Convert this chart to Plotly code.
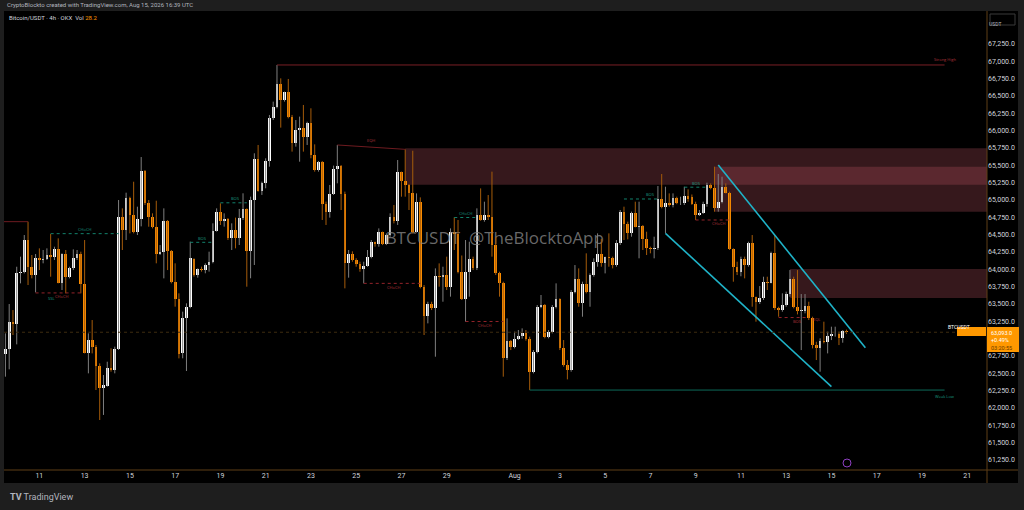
import pandas as pd
import plotly.graph_objects as go

# ---- 4h candles, Bitcoin/USDT (OKX) ----
start_time = "2026-07-09 12:00"
opens = [
    62779, 62851, 63236, 63216, 63942, 63966, 64423, 64029, 63913, 64159,
    64135, 64144, 64207, 64173, 64288, 63808, 64216, 63885, 64014, 64168,
    64221, 63783, 62798, 62981, 62885, 62606, 62284, 62322, 62572, 62548,
    62846, 64750, 64567, 65034, 64784, 64543, 64721, 65418, 64962, 64750,
    64615, 64221, 64245, 64697, 64269, 63822, 63567, 62790, 63294, 63452,
    64150, 63919, 64010, 63996, 64063, 64111, 64553, 64832, 64702, 64727,
    64448, 64573, 64457, 64736, 64871, 64265, 65005, 65592, 65130, 65251,
    65563, 66178, 66347, 66669, 66438, 66554, 66203, 65827, 66010, 66044,
    65914, 66106, 65650, 65433, 65544, 64948, 64832, 65082, 65448, 65491,
    65082, 64087, 64217, 64134, 64077, 64000, 64048, 64183, 64389, 64360,
    64534, 64360, 64495, 64760, 64702, 65399, 65279, 65216, 65096, 64543,
    64976, 63750, 63332, 63495, 63447, 63908, 63894, 63918, 63740, 64543,
    64505, 63957, 63572, 63966, 64149, 64014, 64784, 64712, 64784, 64760,
    64351, 63942, 63798, 62716, 62966, 62875, 62990, 63043, 63077, 62990,
    62524, 62812, 63461, 63485, 63019, 63101, 63452, 63572, 62860, 62620,
    62548, 63678, 63856, 63519, 63788, 63678, 63918, 64110, 64221, 64086,
    64173, 64159, 64062, 64375, 64832, 64654, 64529, 64817, 64606, 64625,
    64433, 64312, 64288, 64312, 65014, 64894, 64952, 64928, 65024, 64952,
    64961, 65058, 65040, 64942, 64783, 64817, 64942, 65216, 65168, 64880,
    64976, 65192, 65106, 64288, 64038, 63966, 64144, 64062, 64385, 63596,
    63533, 63582, 63822, 63808, 64231, 63437, 63413, 63480, 63644, 63856,
    63461, 63396, 63404, 63476, 63303, 62908, 62860, 62971, 62956, 63038,
    63062, 63072, 63005, 63110,
]
highs = [
    63077, 63500, 63413, 64038, 64183, 64495, 64688, 64207, 64221, 64303,
    64279, 64303, 64510, 64327, 64447, 64231, 64279, 64038, 64288, 64279,
    64255, 64423, 63077, 63269, 62909, 62644, 62476, 62668, 62861, 62885,
    65000, 64880, 65106, 65048, 65264, 64904, 65620, 65433, 65000, 64808,
    64990, 64351, 64880, 64712, 64279, 64087, 63654, 63390, 63510, 64400,
    64159, 64015, 64039, 64087, 64255, 64664, 64880, 64952, 64808, 64740,
    64664, 64746, 64871, 65097, 64880, 65049, 65674, 65794, 65265, 65602,
    66227, 66419, 66948, 66755, 66563, 66746, 66227, 66154, 66203, 66371,
    66130, 66323, 65803, 65563, 65563, 64977, 65217, 65496, 65794, 65505,
    65121, 64279, 64260, 64160, 64110, 64110, 64279, 64423, 64400, 64591,
    64545, 64520, 64808, 64928, 65577, 65410, 65731, 65230, 65711, 65096,
    65038, 63774, 63533, 63533, 64014, 64086, 64038, 64183, 64591, 64750,
    64712, 64200, 64423, 64399, 64183, 64880, 65168, 64976, 65072, 65409,
    64471, 63966, 63822, 63293, 62981, 63101, 63125, 63149, 63125, 63029,
    62836, 63485, 63630, 63500, 63125, 63485, 63798, 63582, 62980, 62692,
    63702, 64062, 64014, 63822, 64231, 63942, 64159, 64519, 64440, 64183,
    64519, 64183, 64423, 64856, 64904, 64688, 64832, 64976, 64976, 64640,
    64543, 64327, 64471, 65202, 65375, 65192, 65096, 65096, 65048, 65048,
    65192, 65154, 65080, 64976, 64856, 64976, 65250, 65240, 65481, 65375,
    65336, 65240, 65120, 64303, 64110, 64183, 64183, 64399, 64495, 63606,
    63759, 63894, 63894, 64255, 64495, 63461, 63654, 63678, 63990, 63894,
    63990, 63644, 63644, 63533, 63317, 62956, 63005, 63245, 63101, 63173,
    63173, 63101, 63125, 63130,
]
lows = [
    62452, 62558, 63053, 62918, 63798, 63942, 63774, 63870, 63668, 63990,
    64087, 64135, 63894, 64135, 63798, 63702, 63654, 63870, 63990, 64135,
    63654, 62788, 62500, 62788, 62260, 61827, 61900, 62308, 62524, 62500,
    62837, 64279, 64423, 64519, 64519, 64495, 64620, 64928, 64615, 64591,
    64087, 64207, 63870, 63990, 63798, 63462, 62716, 62717, 62534, 63438,
    63895, 63880, 63967, 63943, 63967, 64087, 64544, 64640, 64616, 64424,
    64279, 64303, 64351, 64712, 63750, 63871, 64063, 65121, 65073, 65169,
    65481, 66154, 66323, 66044, 66419, 66178, 65698, 65770, 65553, 65698,
    65794, 65602, 65409, 65409, 64712, 64640, 64746, 65073, 65241, 64856,
    63726, 63880, 64110, 64038, 63966, 63798, 64038, 64159, 64327, 64327,
    64350, 64350, 64470, 64663, 64640, 65048, 65048, 64856, 64519, 64530,
    63726, 63053, 63221, 63413, 62740, 63750, 63533, 63702, 63606, 64279,
    63942, 63558, 63245, 63606, 63990, 63990, 64700, 64687, 64712, 64183,
    63918, 63606, 62452, 62692, 62836, 62860, 62980, 63000, 62971, 62259,
    62500, 62788, 63440, 63005, 63005, 63077, 63437, 62836, 62596, 62413,
    62524, 63654, 63461, 63317, 63654, 63461, 63894, 64038, 64038, 63942,
    64038, 64014, 64038, 64351, 64423, 64433, 64471, 64606, 64159, 64279,
    64207, 64231, 64159, 64279, 64880, 64519, 64904, 64894, 64940, 64928,
    64928, 64976, 64930, 64712, 64770, 64800, 64904, 65154, 64832, 64832,
    64952, 65096, 64279, 63822, 63918, 63900, 63870, 64038, 63461, 63245,
    63500, 63558, 63702, 63798, 63413, 63317, 63389, 63461, 63606, 63437,
    63350, 62836, 63365, 63269, 62860, 62692, 62524, 62932, 62788, 62980,
    63029, 62908, 62942, 63070,
]
closes = [
    62851, 63236, 63216, 63952, 63966, 64423, 64029, 63913, 64159, 64135,
    64154, 64207, 64173, 64288, 63808, 64216, 63885, 64014, 64168, 64221,
    63788, 62798, 62981, 62885, 62606, 62284, 62332, 62572, 62548, 62846,
    64750, 64567, 65034, 64784, 64543, 64721, 65418, 64962, 64750, 64615,
    64221, 64245, 64697, 64269, 63822, 63567, 62780, 63294, 63452, 64159,
    63919, 64010, 63996, 64063, 64111, 64553, 64832, 64702, 64727, 64448,
    64573, 64457, 64736, 64871, 64265, 65005, 65592, 65130, 65251, 65563,
    66178, 66347, 66669, 66438, 66554, 66203, 65827, 66010, 66044, 65914,
    66106, 65650, 65433, 65544, 64948, 64832, 65082, 65448, 65491, 65082,
    64087, 64217, 64134, 64077, 64000, 64048, 64183, 64389, 64360, 64534,
    64360, 64495, 64760, 64702, 65399, 65279, 65216, 65096, 64543, 64976,
    63750, 63332, 63495, 63447, 63908, 63894, 63918, 63740, 64543, 64505,
    63957, 63572, 63966, 64149, 64014, 64784, 64712, 64784, 64760, 64351,
    63942, 63798, 62716, 62966, 62875, 62990, 63043, 63077, 62990, 62524,
    62812, 63461, 63485, 63019, 63101, 63452, 63572, 62860, 62620, 62548,
    63678, 63856, 63519, 63788, 63678, 63918, 64110, 64221, 64086, 64173,
    64159, 64062, 64375, 64832, 64654, 64529, 64817, 64615, 64625, 64433,
    64312, 64288, 64312, 65014, 64894, 64952, 64928, 65024, 64952, 64961,
    65058, 65010, 64942, 64783, 64817, 64942, 65216, 65168, 64880, 64976,
    65192, 65106, 64288, 64038, 63966, 64144, 64062, 64385, 63596, 63533,
    63582, 63822, 63808, 64231, 63437, 63413, 63480, 63644, 63856, 63461,
    63404, 63410, 63476, 63303, 62908, 62860, 62971, 62956, 63038, 63062,
    63072, 63005, 63110, 63093,
]

# price scale ticks (63,000 sits under the last-price label)
price_ticks = [61250, 61500, 61750, 62000, 62250, 62500, 62750, 63250,
               63500, 63750, 64000, 64250, 64500, 64750, 65000, 65250, 65500,
               65750, 66000, 66250, 66500, 66750, 67000, 67250]
# time scale ticks
date_ticks = ["2026-07-11", "2026-07-13", "2026-07-15", "2026-07-17", "2026-07-19",
              "2026-07-21", "2026-07-23", "2026-07-25", "2026-07-27", "2026-07-29",
              "2026-08-01", "2026-08-03", "2026-08-05", "2026-08-07", "2026-08-09",
              "2026-08-11", "2026-08-13", "2026-08-15", "2026-08-17", "2026-08-19",
              "2026-08-21"]
date_labels = ["11", "13", "15", "17", "19", "21", "23", "25", "27", "29",
               "Aug", "3", "5", "7", "9", "11", "13", "15", "17", "19", "21"]

# supply zones (top, bottom, first candle index)
zones = [(65745, 65220, 106), (65480, 64830, 188), (64005, 63587, 208)]
# swing levels
strong_high = (72, 66948)
weak_low = (139, 62259)
level_end = "2026-08-20 00:00"
# falling wedge (candle index / time, price)
wedge_upper = [(189, 65505), ("2026-08-16 12:00", 62870)]
wedge_lower = [(175, 64520), ("2026-08-15 00:00", 62308)]
# market structure: (from idx, to idx, price, side, label, label idx)
structure = [
    (12, 30, 64515, "bull", "CHoCH", 21),
    (8, 20, 63660, "bear", "CHoCH", 15),
    (49, 55, 64390, "bull", "BOS", 52),
    (57, 64, 64960, "bull", "BOS", 61),
    (95, 110, 63798, "bear", "CHoCH", 103),
    (119, 125, 64748, "bull", "CHoCH", 122),
    (122, 132, 63248, "bear", "CHoCH", 127),
    (164, 173, 65015, "bull", "BOS", 171),
    (180, 186, 65185, "bull", "BOS", 183),
    (183, 192, 64712, "bear", "CHoCH", 189),
    (205, 213, 63305, "bear", "BOS", 210),
]
last_price = 63093.0

times = pd.date_range(start_time, periods=len(closes), freq="4h")
x_range = ["2026-07-09 10:30", "2026-08-21 21:00"]
y_range = [61106, 67712]

BULL = "#ffffff"
BEAR = "#fb8c00"
BULL_WICK = "#7f7f7f"
BEAR_WICK = "#a65c0a"
TEAL = "#12806b"
RED = "#93232a"
AXIS = "#5e3f16"

# pixel helpers for the chrome around the plot (plot area x 4..987, y 12..470)
def px(x):
    return (x - 4) / 983

def py(y):
    return (470 - y) / 458


fig = go.Figure()

# watermark sits behind the candles
fig.add_trace(go.Scatter(
    x=[pd.Timestamp("2026-07-31 03:00")], y=[64424], mode="text",
    text=["BTCUSDT  @TheBlocktoApp"],
    textfont=dict(family="Open Sans", size=17, color="rgba(140,140,140,0.75)"),
    hoverinfo="skip", showlegend=False))

# wicks
for bull, col in [(True, BULL_WICK), (False, BEAR_WICK)]:
    wx, wy = [], []
    for t, o, h, l, c in zip(times, opens, highs, lows, closes):
        if (c >= o) == bull:
            wx += [t, t, None]
            wy += [l, h, None]
    fig.add_trace(go.Scatter(x=wx, y=wy, mode="lines", line=dict(color=col, width=1),
                             hoverinfo="skip", showlegend=False))

# bodies
base = [min(o, c) for o, c in zip(opens, closes)]
height = [max(abs(c - o), 10) for o, c in zip(opens, closes)]
colors = [BULL if c >= o else BEAR for o, c in zip(opens, closes)]
fig.add_trace(go.Bar(x=times, y=height, base=base, width=4 * 3600 * 1000 * 0.72,
                     marker=dict(color=colors, line=dict(width=0)),
                     hoverinfo="skip", showlegend=False))

# wedge lines
for pts in (wedge_upper, wedge_lower):
    xs = [times[p[0]] if isinstance(p[0], int) else pd.Timestamp(p[0]) for p in pts]
    fig.add_trace(go.Scatter(x=xs, y=[p[1] for p in pts], mode="lines",
                             line=dict(color="#1fb3c8", width=1.6),
                             hoverinfo="skip", showlegend=False))

shapes = []
# black chart pane incl. scales
shapes.append(dict(type="rect", xref="paper", yref="paper", x0=px(4), x1=px(1018),
                   y0=py(483), y1=py(11), fillcolor="#000000", line_width=0, layer="below"))
for top, bot, i in zones:
    shapes.append(dict(type="rect", xref="x", yref="y", x0=times[i], x1=x_range[1],
                       y0=bot, y1=top, fillcolor="rgba(178,80,92,0.30)",
                       line_width=0, layer="below"))
# swing levels
shapes.append(dict(type="line", xref="x", yref="y", x0=times[strong_high[0]], x1=level_end,
                   y0=strong_high[1], y1=strong_high[1], line=dict(color="#7a1f24", width=1)))
shapes.append(dict(type="line", xref="x", yref="y", x0=times[weak_low[0]], x1=level_end,
                   y0=weak_low[1], y1=weak_low[1], line=dict(color="#0d6a5a", width=1)))
# old high and equal-high line
shapes.append(dict(type="line", xref="x", yref="y", x0=x_range[0], x1=times[6],
                   y0=highs[6], y1=highs[6], line=dict(color="#6e1b20", width=1)))
shapes.append(dict(type="line", xref="x", yref="y", x0=times[88], x1=times[106],
                   y0=highs[88], y1=highs[106], line=dict(color="#6e1b20", width=1)))
# structure breaks
for i0, i1, p, side, lab, li in structure:
    col = TEAL if side == "bull" else RED
    shapes.append(dict(type="line", xref="x", yref="y", x0=times[i0], x1=times[i1],
                       y0=p, y1=p, line=dict(color=col, width=1, dash="dot")))
# last price line
shapes.append(dict(type="line", xref="paper", yref="y", x0=0, x1=1, y0=last_price,
                   y1=last_price, line=dict(color="#3e2c10", width=1, dash="dot")))
# scale separators
shapes.append(dict(type="line", xref="paper", yref="paper", x0=px(987), x1=px(987),
                   y0=py(483), y1=py(11), line=dict(color=AXIS, width=1)))
shapes.append(dict(type="line", xref="paper", yref="paper", x0=px(4), x1=px(1018),
                   y0=py(470), y1=py(470), line=dict(color=AXIS, width=1)))
# price label on the scale
shapes.append(dict(type="rect", xref="paper", yref="paper", x0=px(987), x1=px(1019),
                   y0=py(352), y1=py(327), fillcolor="#ff9800", line_width=0))
shapes.append(dict(type="rect", xref="paper", yref="paper", x0=px(957), x1=px(986),
                   y0=py(336), y1=py(327), fillcolor="#ff9800", line_width=0))
# currency box
shapes.append(dict(type="rect", xref="paper", yref="paper", x0=px(990), x1=px(1015),
                   y0=py(25), y1=py(14), fillcolor="#000000",
                   line=dict(color="#3a3a3a", width=1)))
# small purple icon
shapes.append(dict(type="circle", xref="paper", yref="paper", x0=px(843), x1=px(851),
                   y0=py(467), y1=py(459), line=dict(color="#8e3fc2", width=1)))

annotations = []
for i0, i1, p, side, lab, li in structure:
    col = "#1a9c82" if side == "bull" else "#b3343c"
    annotations.append(dict(x=times[li], y=p, xref="x", yref="y", text=lab, showarrow=False,
                            font=dict(size=4, color=col), yshift=4 if side == "bull" else -4))
annotations.append(dict(x=times[12], y=63660, xref="x", yref="y", text="SSL", showarrow=False,
                        font=dict(size=4, color="#1a9c82"), yshift=-6))
annotations.append(dict(x=times[97], y=65800, xref="x", yref="y", text="EQH", showarrow=False,
                        font=dict(size=4, color="#b3343c"), yshift=4))
annotations.append(dict(x=times[215], y=63270, xref="x", yref="y", text="EQL", showarrow=False,
                        font=dict(size=4, color="#b3343c"), yshift=0))
annotations.append(dict(x=level_end, y=strong_high[1], xref="x", yref="y", text="Strong High",
                        showarrow=False, font=dict(size=4, color="#b3343c"), yshift=5))
annotations.append(dict(x=level_end, y=weak_low[1], xref="x", yref="y", text="Weak Low",
                        showarrow=False, font=dict(size=4, color="#1a9c82"), yshift=-6))

# header / footer chrome
annotations.append(dict(x=px(5), y=py(5), xref="paper", yref="paper", xanchor="left",
                        yanchor="middle", showarrow=False,
                        text="CryptoBlockto created with TradingView.com, Aug 15, 2026 16:39 UTC",
                        font=dict(family="Roboto", size=6, color="#b2b5be")))
annotations.append(dict(x=px(7), y=py(17.5), xref="paper", yref="paper", xanchor="left",
                        yanchor="middle", showarrow=False,
                        text="Bitcoin/USDT · 4h · OKX  Vol <span style='color:#ff9800'>28.2</span>",
                        font=dict(family="Roboto", size=6, color="#d1d4dc")))
annotations.append(dict(x=px(8), y=py(497), xref="paper", yref="paper", xanchor="left",
                        yanchor="middle", showarrow=False,
                        text="<b>TV</b> TradingView",
                        font=dict(family="Roboto", size=9, color="#b2b5be")))
annotations.append(dict(x=px(1002.5), y=py(19.5), xref="paper", yref="paper",
                        showarrow=False, text="USDT",
                        font=dict(family="Roboto", size=5, color="#b2b5be")))
annotations.append(dict(x=px(971.5), y=py(331.5), xref="paper", yref="paper",
                        showarrow=False, text="BTCUSDT",
                        font=dict(family="Roboto", size=5, color="#ffffff")))
for yy, txt, col in [(332.5, "63,093.0", "#ffffff"), (340, "+0.49%", "#ffffff"),
                     (347.5, "03:20:55", "#6a3a00")]:
    annotations.append(dict(x=px(989), y=py(yy), xref="paper", yref="paper", xanchor="left",
                            yanchor="middle", showarrow=False, text=txt,
                            font=dict(family="Roboto", size=5.5, color=col)))

fig.update_layout(
    width=1024, height=510,
    margin=dict(l=4, r=37, t=12, b=40, autoexpand=False),
    paper_bgcolor="#1e1e1e", plot_bgcolor="#000000",
    showlegend=False, bargap=0,
    shapes=shapes, annotations=annotations,
    xaxis=dict(type="date", range=x_range, showgrid=False, zeroline=False,
               tickvals=date_ticks, ticktext=date_labels, ticks="", automargin=False,
               tickfont=dict(family="Roboto", size=7, color="#d1d4dc"),
               rangeslider=dict(visible=False), fixedrange=True),
    yaxis=dict(side="right", range=y_range, showgrid=False, zeroline=False,
               tickvals=price_ticks, tickformat=",.1f", ticks="", automargin=False,
               tickfont=dict(family="Roboto", size=7, color="#d1d4dc"), fixedrange=True),
)

# the page body has a default 8px margin; drop it so the figure fills the window
fig.write_html("out.html", config={"staticPlot": True},
               post_script="document.body.style.margin='0';document.body.style.overflow='hidden';")
